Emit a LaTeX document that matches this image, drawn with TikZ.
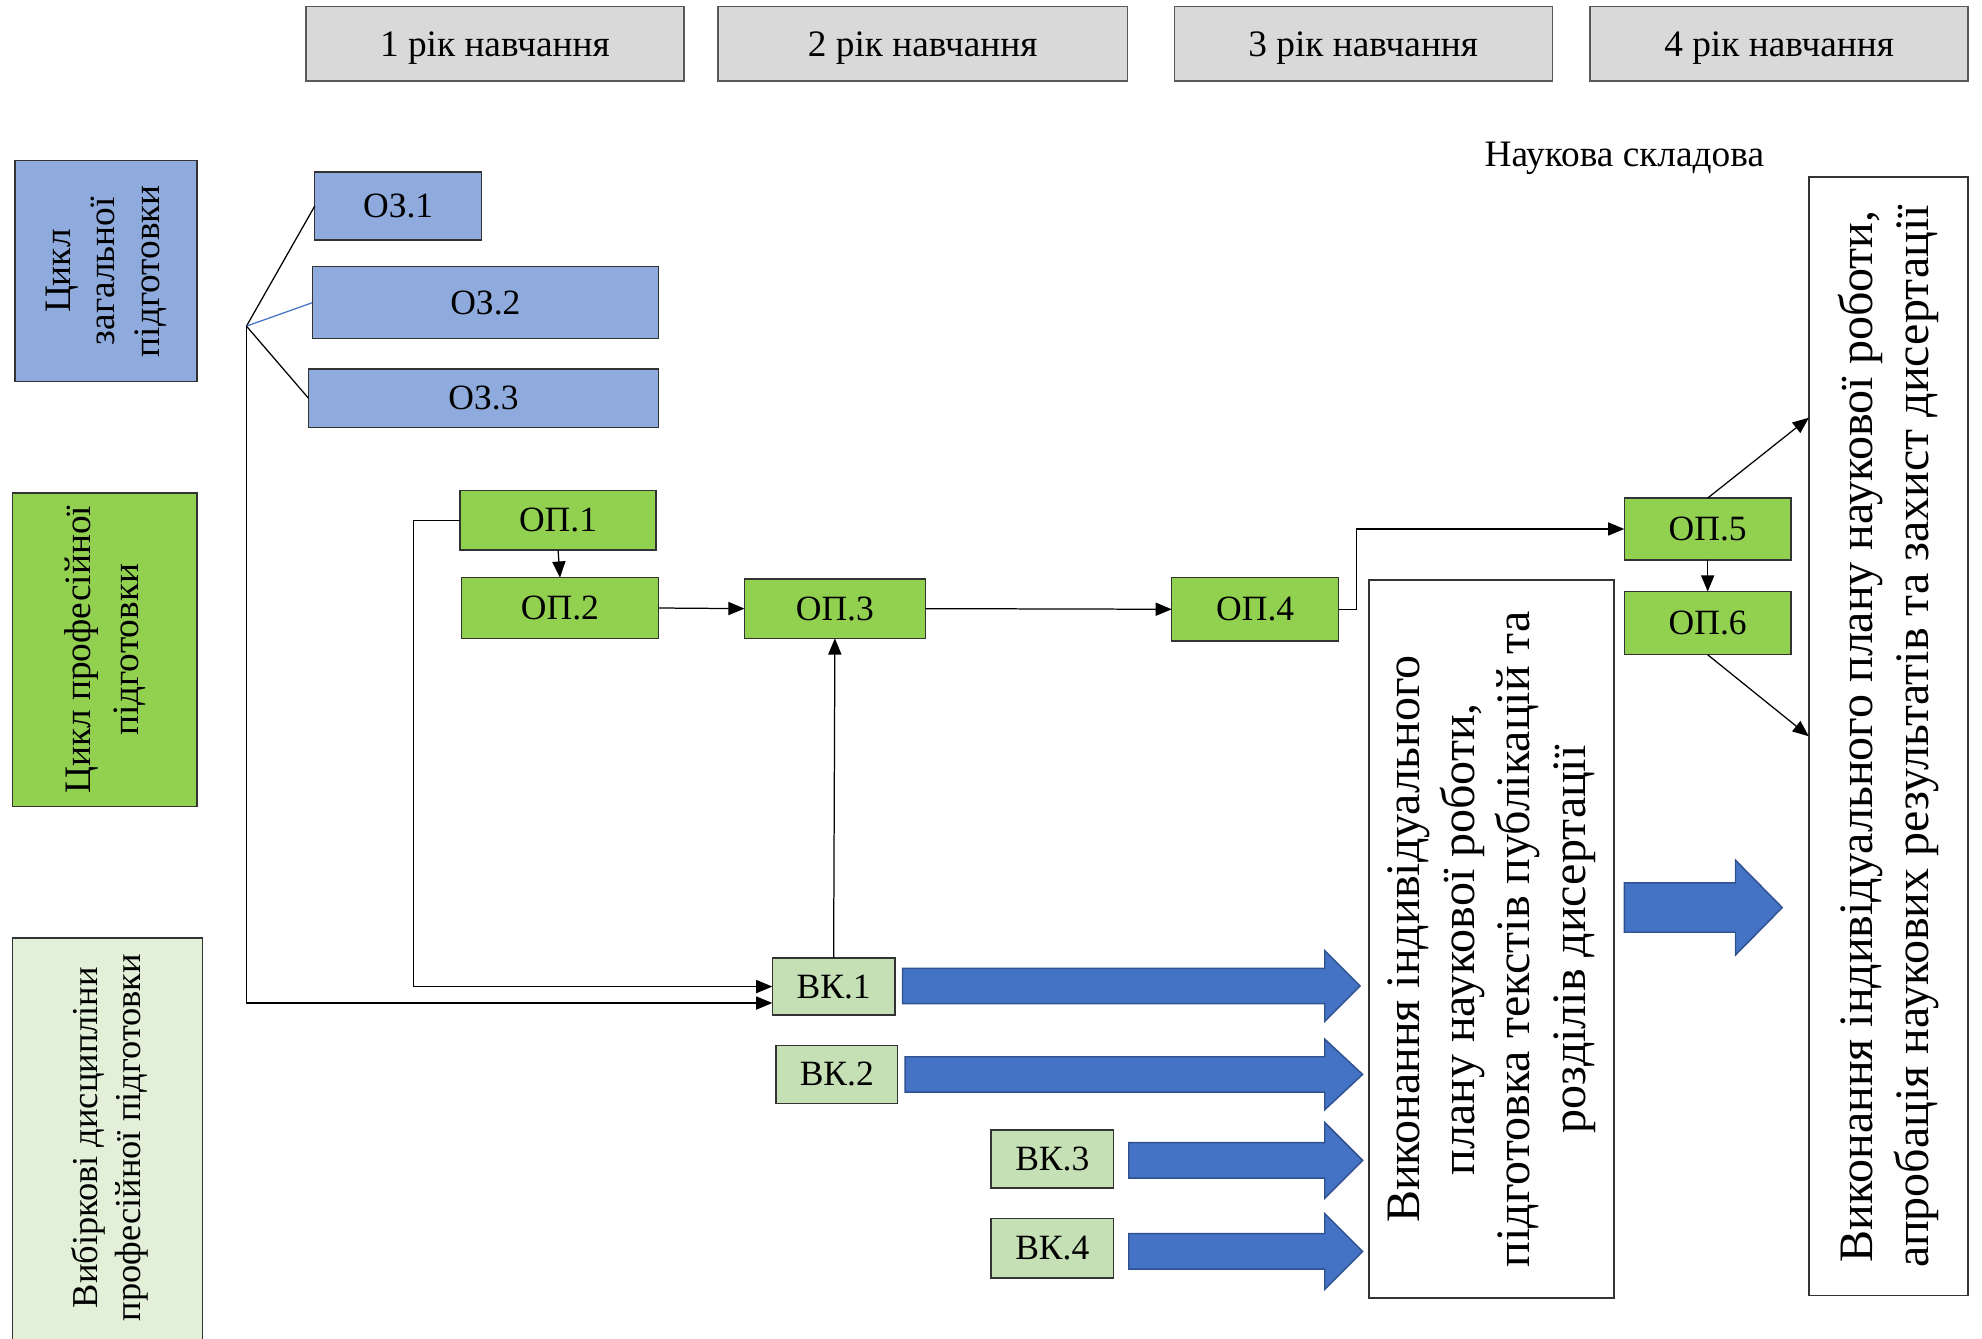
\documentclass[tikz,border=0pt]{standalone}
\usepackage{fontspec}
\setmainfont{Liberation Serif}
\usetikzlibrary{arrows.meta,calc}
\definecolor{hdrgray}{HTML}{D9D9D9}
\definecolor{ozblue}{HTML}{8FAADC}
\definecolor{opgreen}{HTML}{92D050}
\definecolor{vkgreen}{HTML}{C5E0B4}
\definecolor{selgreen}{HTML}{E2F0D9}
\definecolor{arrblue}{HTML}{4472C4}
\definecolor{arredge}{HTML}{2F528F}
\newcommand\blkarr[6]{% tail x, tip x, centre y, shaft half, head half, head length
  \filldraw[blk] (#1,#3-#4) -- (#2-#6,#3-#4) -- (#2-#6,#3-#5) -- (#2,#3) --
    (#2-#6,#3+#5) -- (#2-#6,#3+#4) -- (#1,#3+#4) -- cycle;}
\begin{document}
\begin{tikzpicture}[x=0.025cm,y=-0.025cm,
  sz/.style 2 args={minimum width=#1*0.025cm,minimum height=#2*0.025cm},
  box/.style={draw=black!80,line width=0.8pt,inner sep=0pt,outer sep=0pt},
  hdr/.style={box,fill=hdrgray,draw=black!65,font=\fontsize{21}{25}\selectfont,text height=15pt,text depth=0pt},
  oz/.style={box,fill=ozblue,font=\fontsize{20}{24}\selectfont},
  op/.style={box,fill=opgreen,font=\fontsize{20}{24}\selectfont},
  vk/.style={box,fill=vkgreen,font=\fontsize{20}{24}\selectfont},
  bigtxt/.style={rotate=90,align=center,font=\fontsize{27}{31}\selectfont},
  conn/.style={line width=0.7pt},
  arr/.style={conn,-{Triangle[length=0.32cm,width=0.26cm]}},
  blk/.style={fill=arrblue,draw=arredge,line width=0.8pt},
]
\useasboundingbox (0,0) rectangle (1568,1059);

% headers
\node[hdr,sz={299}{59}] (h1) at (391.5,34.5) {1 рік навчання};
\node[hdr,sz={324}{59}] (h2) at (730,34.5) {2 рік навчання};
\node[hdr,sz={299}{59}] (h3) at (1078.5,34.5) {3 рік навчання};
\node[hdr,sz={299}{59}] (h4) at (1407.5,34.5) {4 рік навчання};
\node[font=\fontsize{21}{25}\selectfont] (nauk) at (1285,125) {Наукова складова};

% left column
\node[box,fill=ozblue,sz={144}{175}] (L1) at (84,214.5) {};
\node[rotate=90,align=center,font=\fontsize{21}{25}\selectfont] (L1t) at (L1) {Цикл\\загальної\\підготовки};
\node[box,fill=opgreen,sz={146}{248}] (L2) at (83,514) {};
\node[rotate=90,align=center,font=\fontsize{21}{27}\selectfont] (L2t) at (L2) {Цикл професійної\\підготовки};
\node[box,fill=selgreen,sz={150}{324}] (L3) at (85,904) {};
\node[rotate=90,align=center,font=\fontsize{20.5}{24}\selectfont] (L3t) at (87,900) {Вибіркові дисципліни\\професійної підготовки};

% general training
\node[oz,sz={132}{54}] (oz1) at (315,163) {ОЗ.1};
\node[oz,sz={274}{57}] (oz2) at (384,239.5) {ОЗ.2};
\node[oz,sz={277}{46}] (oz3) at (382.5,315) {ОЗ.3};

% professional training
\node[op,sz={155}{47}] (op1) at (441.5,411.5) {ОП.1};
\node[op,sz={156}{48}] (op2) at (443,481) {ОП.2};
\node[op,sz={143}{47}] (op3) at (660.5,481.5) {ОП.3};
\node[op,sz={132}{50}] (op4) at (993,482) {ОП.4};
\node[op,sz={132}{49}] (op5) at (1351,418.5) {ОП.5};
\node[op,sz={132}{50}] (op6) at (1351,493) {ОП.6};

% electives
\node[vk,sz={97}{45}] (vk1) at (659.5,780.5) {ВК.1};
\node[vk,sz={96}{46}] (vk2) at (662,850) {ВК.2};
\node[vk,sz={97}{46}] (vk3) at (832.5,917) {ВК.3};
\node[vk,sz={97}{47}] (vk4) at (832.5,987.5) {ВК.4};

% research boxes
\node[box,fill=white,sz={194}{568}] (M) at (1180,743) {};
\node[bigtxt] (Mt) at (M) {Виконання індивідуального\\плану наукової роботи,\\підготовка текстів публікацій та\\розділів дисертації};
\node[box,fill=white,sz={126}{885}] (R) at (1494,582.5) {};
\node[bigtxt] (Rt) at (R) {Виконання індивідуального плану наукової роботи,\\апробація наукових результатів та захист дисертації};

% connectors
\coordinate (fork) at (195,258);
\draw[conn] (fork) -- (oz1.west);
\draw[conn,draw=arrblue] (fork) -- (oz2.west);
\draw[conn] (fork) -- (oz3.west);
\draw[arr] (fork) |- ($(vk1.west)+(0,13)$);
\draw[arr] (op1.west) -- ++(-37,0) |- (vk1.west);
\draw[arr] (op1.south) -- (op2.north);
\draw[arr] (op2.east) -- (op3.west);
\draw[arr] (op3.east) -- (op4.west);
\draw[arr] (vk1.north) -- (op3.south);
\draw[arr] (op4.east) -- ++(14,0) |- (op5.west);
\draw[arr] (op5.south) -- (op6.north);
\draw[arr] (op5.north) -- ($(R.west)+(0,-252)$);
\draw[arr] (op6.south) -- (R.west);

% block arrows
\blkarr{714}{1076}{780}{14}{28}{28}
\blkarr{716}{1078}{850}{14}{28}{30}
\blkarr{893}{1078}{918}{14}{30}{30}
\blkarr{893}{1078}{990}{14}{30}{30}
\blkarr{1285}{1410}{718}{19.5}{37.5}{37}
\end{tikzpicture}
\end{document}
